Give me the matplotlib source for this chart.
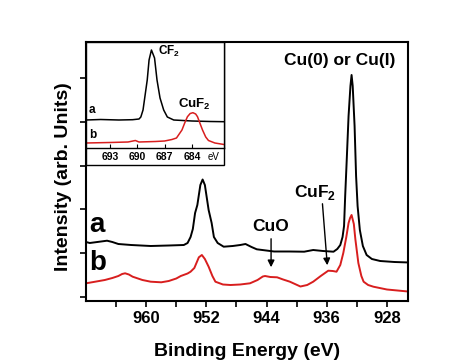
import matplotlib
matplotlib.use("Agg")
import matplotlib.pyplot as plt
from matplotlib.patches import Rectangle

plt.rcParams['font.family'] = ['Liberation Sans', 'DejaVu Sans']
plt.rcParams['mathtext.fontset'] = 'custom'
plt.rcParams['mathtext.rm'] = 'Liberation Sans:bold'
plt.rcParams['mathtext.bf'] = 'Liberation Sans:bold'

# ---------------- data (main panel: Cu 2p) ----------------
a_ev = [968, 967.5, 966.5, 965.2, 964.5, 963.7, 962, 959.4, 957, 955, 954.5, 954.1,
        953.8, 953.5, 953.2, 952.8, 952.5, 952.2, 951.7, 951.3, 951.0, 950.5, 949.7,
        948.5, 947.5, 946.8, 946, 945.3, 943, 941, 939, 937.8, 936.5, 935.1, 934.6,
        934.2, 933.9, 933.7, 933.55, 933.35, 933.1, 932.85, 932.7, 932.55, 932.3,
        932.1, 931.9, 931.6, 931.2, 930.7, 930.0, 928.9, 927, 925]
a_int = [59, 58, 59, 60.3, 59, 57, 56, 55, 55.5, 56, 58, 64,
         72, 88, 96, 116, 121.5, 116, 91, 78, 64, 58, 54.3,
         55, 56, 57, 54, 51.7, 49.5, 49.5, 49.3, 51, 50, 49.3, 52,
         56, 64, 75, 105, 140, 185, 215, 226, 215, 175,
         125, 95, 71, 55, 46, 42, 40, 39, 38.5]

b_ev = [968, 967, 965.5, 964.5, 963.7, 963.2, 962.8, 962.3, 961.8, 960.5, 959.4, 958,
        957, 956, 955.4, 954.5, 954.1, 953.6, 953.0, 952.6, 952.2, 951.7, 951.2,
        950.8, 949.8, 948.8, 947.5, 946.2, 945.2, 944.5, 944.2, 943.5, 942.6, 941.8,
        940.9, 939.5, 938.6, 937.8, 936.8, 935.8, 935.2, 934.7, 934.2, 933.8, 933.4,
        933.1, 932.9, 932.7, 932.4, 932.2, 931.8, 931.4, 931.1, 930.5, 929.8, 928, 925.2]
b_int = [17.7, 19, 21, 23, 25, 27, 27.7, 26.5, 24.3, 21, 19.3, 18.7,
         20, 22.5, 25, 27.5, 29.3, 33, 43.7, 46, 42, 34.3, 25,
         19.3, 16.5, 16, 16.5, 17.7, 21, 24.5, 25, 24, 23.7, 21.5,
         19.3, 14.5, 16, 19.3, 25, 30.3, 30, 29.3, 36, 48, 64,
         78, 83, 86, 77, 62, 38, 25, 19.3, 16, 14.3, 11.5, 9.5]

# ---------------- data (inset: F 1s) ----------------
ia_ev = [695.6, 694, 692, 690.5, 689.8, 689.6, 689.36, 689.1, 688.9, 688.7, 688.44,
         688.1, 687.83, 687.5, 687.1, 686.7, 686, 684, 682, 680.5]
ia_int = [28, 28.5, 28, 28.3, 29, 31, 38, 55, 68, 88, 98,
          90, 68, 50, 38, 31, 28, 27, 26.5, 26.3]
ib_ev = [695.6, 693, 691, 690.2, 689.8, 688, 687, 686.2, 685.7, 685.4, 685.1, 684.8,
         684.5, 684.2, 683.9, 683.6, 683.4, 683.1, 682.85, 682.5, 682.2, 681.5, 680.5]
ib_int = [5, 5.5, 6, 7.5, 6, 6.5, 7, 8.5, 10, 14, 18, 25,
          31.3, 34.5, 35.3, 34, 31.3, 24, 18, 11, 7.5, 5, 3.5]

main_ticks = [960, 952, 944, 936, 928]
main_minor = [964, 956, 948, 940, 932]
y_ticks = [4, 47.8, 91.6, 135.4, 179.2, 223]
inset_ticks = [693, 690, 687, 684]

RED = '#d81e1e'

fig = plt.figure(figsize=(4.74, 3.62), dpi=100)
ax = fig.add_axes([86/474, 1-301/362, (408-86)/474, (301-42)/362])
ax.plot(a_ev, a_int, color='black', lw=1.4)
ax.plot(b_ev, b_int, color=RED, lw=1.4)
ax.set_xlim(968, 925.2)
ax.set_ylim(0, 259)
ax.set_xticks(main_ticks)
ax.set_xticks(main_minor, minor=True)
ax.set_yticks(y_ticks)
ax.set_yticklabels([])
ax.tick_params(axis='both', which='both', direction='out', length=4, width=1.2)
ax.tick_params(axis='x', labelsize=12, pad=3)
for lab in ax.get_xticklabels():
    lab.set_fontweight('bold')
for s in ax.spines.values():
    s.set_linewidth(1.5)

ax.text(934.3, 241, 'Cu(0) or Cu(I)', fontsize=12.5, fontweight='bold', ha='center', va='center')
ax.text(937.6, 104, r'CuF$_{\mathbf{2}}$', fontsize=12.5, fontweight='bold', ha='center', va='baseline')
ax.annotate('', xy=(935.9, 33), xytext=(936.6, 100),
            arrowprops=dict(arrowstyle='-|>', color='black', lw=1.0, mutation_scale=10))
ax.text(943.5, 70, 'CuO', fontsize=12.5, fontweight='bold', ha='center', va='baseline')
ax.annotate('', xy=(943.4, 31), xytext=(943.4, 65),
            arrowprops=dict(arrowstyle='-|>', color='black', lw=1.0, mutation_scale=10))
ax.text(967.6, 69, 'a', fontsize=20, fontweight='bold', ha='left', va='baseline')
ax.text(967.6, 31, 'b', fontsize=20, fontweight='bold', ha='left', va='baseline')

fig.text(247/474, 1-351/362, 'Binding Energy (eV)', fontsize=14, fontweight='bold',
         ha='center', va='center')
fig.text(64/474, 1-177/362, 'Intensity (arb. Units)', fontsize=14, fontweight='bold',
         ha='center', va='center', rotation=90)

# inset
frame = Rectangle((86/474, 1-165/362), (224-86)/474, (165-42)/362, transform=fig.transFigure,
                  facecolor='white', edgecolor='black', lw=1.0, zorder=5)
fig.patches.append(frame)
axi = fig.add_axes([86/474, 1-148/362, (224-86)/474, (148-42)/362], zorder=6)
axi.plot(ia_ev, ia_int, color='black', lw=1.1)
axi.plot(ib_ev, ib_int, color=RED, lw=1.1)
axi.set_xlim(695.6, 680.5)
axi.set_ylim(0, 106)
axi.set_xticks(inset_ticks)
axi.set_yticks([])
axi.tick_params(axis='x', direction='in', length=3, width=0.8, labelsize=7.5, pad=3)
for lab in axi.get_xticklabels():
    lab.set_fontweight('bold')
for s in axi.spines.values():
    s.set_linewidth(1.0)
axi.text(681.6, -9, 'eV', fontsize=7, ha='center', va='center', clip_on=False)
axi.text(695.3, 35, 'a', fontsize=8.5, fontweight='bold', ha='left', va='baseline')
axi.text(695.3, 10, 'b', fontsize=8.5, fontweight='bold', ha='left', va='baseline')
axi.text(687.7, 93, r'CF$_{\mathbf{2}}$', fontsize=8.5, fontweight='bold', ha='left', va='baseline')
axi.text(685.5, 40, r'CuF$_{\mathbf{2}}$', fontsize=9.5, fontweight='bold', ha='left', va='baseline')

fig.savefig('out.png', dpi=100)
